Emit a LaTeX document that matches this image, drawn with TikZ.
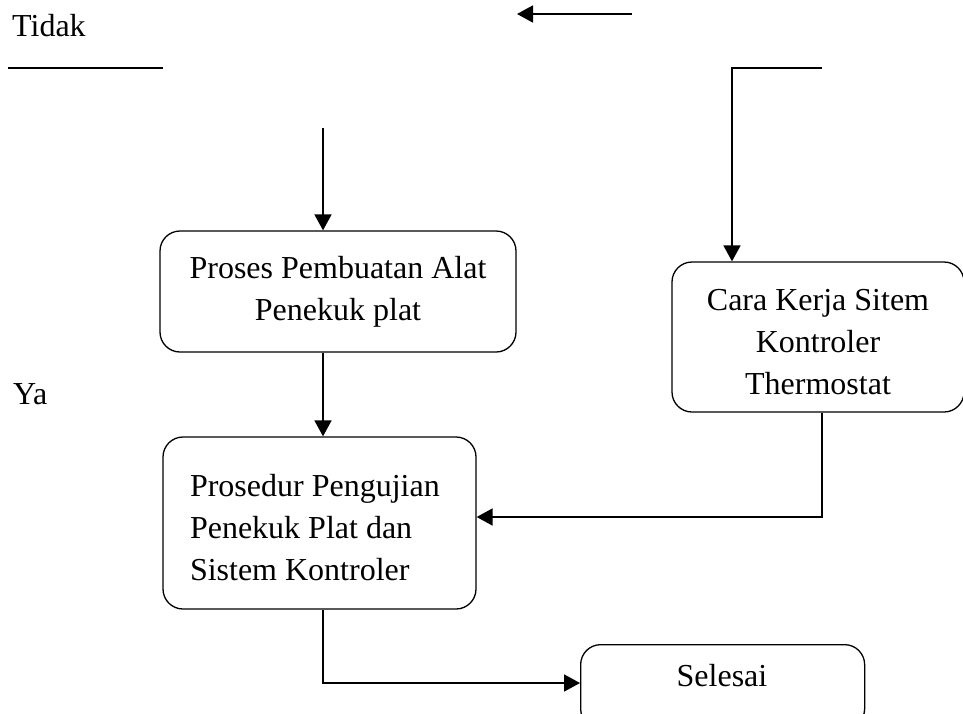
\documentclass[tikz,border=0pt]{standalone}
\usepackage{fontspec}
\setmainfont{Liberation Serif}
\usetikzlibrary{arrows.meta}
\begin{document}
\begin{tikzpicture}[x=1pt,y=-1pt,
  every node/.style={font=\fontsize{32}{42}\selectfont},
  box/.style={draw, line width=1.3pt, rounded corners=20pt, inner sep=0pt},
  conn/.style={line width=1.8pt},
  arr/.style={conn, -{Triangle[length=16pt,width=17pt]}}]
\useasboundingbox (0,0) rectangle (963,713);
% labels
\node[anchor=base west, inner sep=0pt] (tidak) at (12,36) {Tidak};
\node[anchor=base west, inner sep=0pt] (ya) at (13,404) {Ya};
% boxes
\node[box, minimum width=356pt, minimum height=121pt, align=center] (b1) at (338,291.5)
  {Proses Pembuatan Alat\\Penekuk plat};
\node[box, minimum width=313pt, minimum height=172pt, align=flush left, text width=259pt, inner xsep=27pt] (b2) at (319.5,523)
  {\rule{0pt}{32pt}Prosedur Pengujian\\Penekuk Plat dan\\Sistem Kontroler};
\node[box, minimum width=292pt, minimum height=150pt, align=center] (b3) at (818,337)
  {\rule{0pt}{32pt}Cara Kerja Sitem\\Kontroler\\Thermostat};
\node[box, minimum width=284pt, minimum height=84pt, anchor=north west] (b4) at (580,644) {};
\node[anchor=base, inner sep=0pt] (b4t) at (722,686) {Selesai};
% coordinates
\coordinate (ta1) at (632,14);
\coordinate (ta2) at (517,14);
\coordinate (tl1) at (8,68);
\coordinate (tl2) at (163,68);
\coordinate (r1) at (822,68);
\coordinate (r2) at (732,68);
\coordinate (c1) at (323,128);
\coordinate (r3) at (822,517);
\coordinate (c2) at (323,683);
% connectors
\draw[arr] (ta1) -- (ta2);
\draw[conn] (tl1) -- (tl2);
\draw[arr] (r1) -- (r2) -- (r2 |- b3.north);
\draw[arr] (c1) -- (c1 |- b1.north);
\draw[arr] (b1.south -| c1) -- (b2.north -| c1);
\draw[arr] (b3.south -| r3) -- (r3) -- (r3 -| b2.east);
\draw[arr] (b2.south -| c2) -- (c2) -- (c2 -| b4.west);
\end{tikzpicture}
\end{document}
